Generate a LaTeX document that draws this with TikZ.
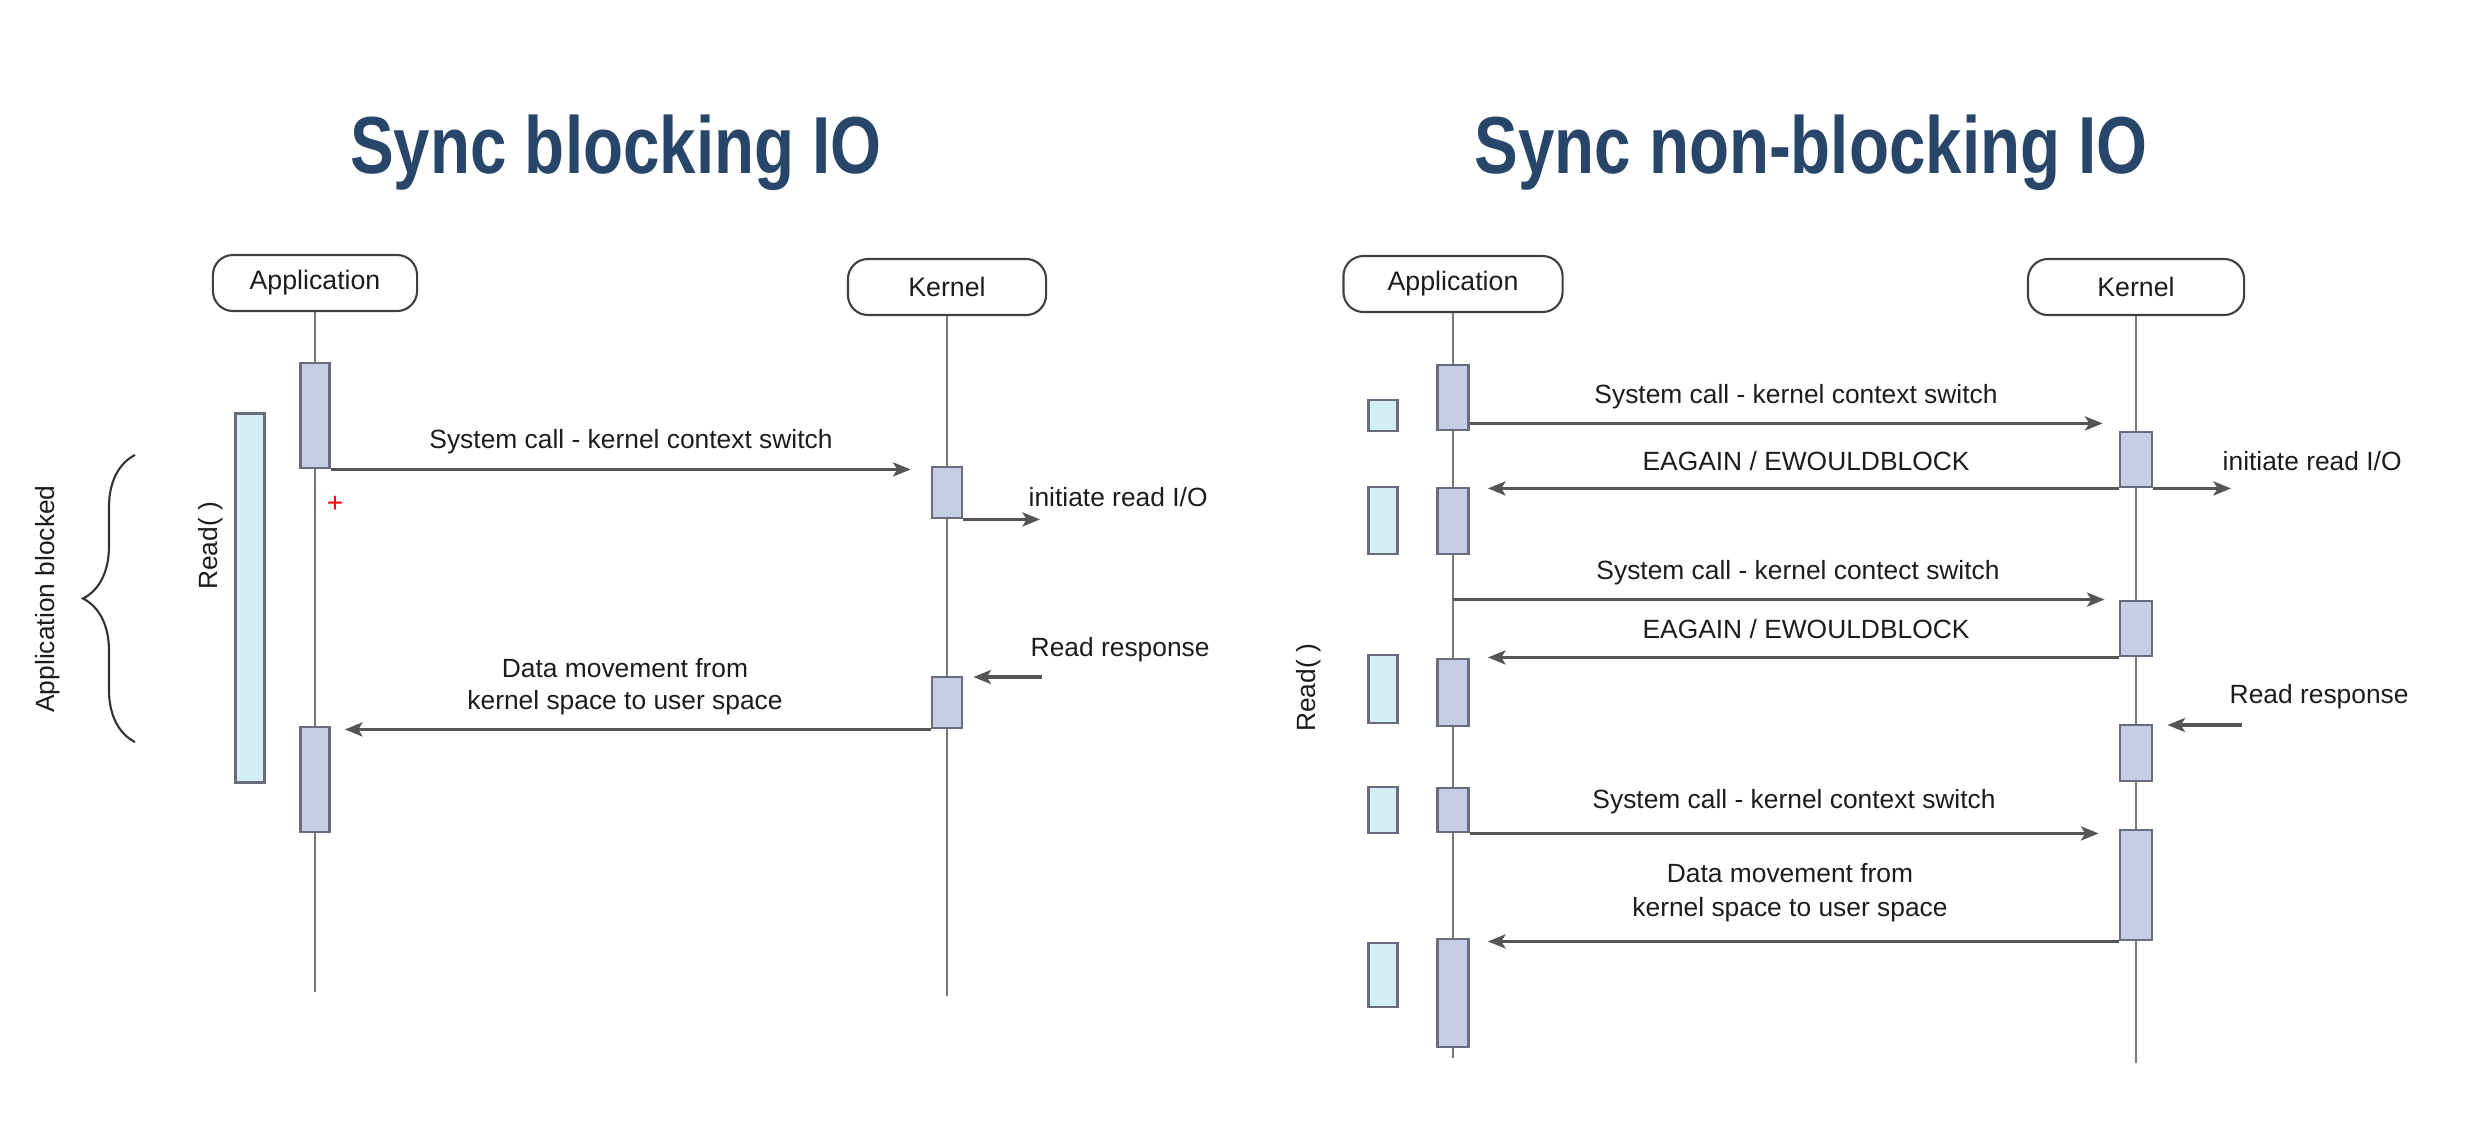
\documentclass[tikz,border=0pt]{standalone}
\usepackage{fontspec}
\setmainfont{Liberation Sans}
\usetikzlibrary{arrows.meta,decorations.pathreplacing}
\definecolor{titleblue}{RGB}{40,70,106}
\definecolor{actfill}{RGB}{198,206,230}
\definecolor{actdraw}{RGB}{105,108,125}
\definecolor{readfill}{RGB}{212,238,246}
\definecolor{lifeg}{RGB}{120,120,120}
\definecolor{arrg}{RGB}{85,85,85}
\definecolor{txt}{RGB}{28,28,28}
\newcommand\mytitle[1]{\scalebox{0.81}[1]{#1}}
\begin{document}
\begin{tikzpicture}[x=0.01cm,y=-0.01cm,
  titlestyle/.style={anchor=base,inner sep=0pt,text=titleblue,font=\fontsize{23}{28}\selectfont\bfseries},
  head/.style={draw=black!75,line width=0.6pt,rounded corners=0.2cm,minimum height=0.56cm,inner sep=0pt,font=\fontsize{7.6}{9}\selectfont,text=txt},
  lbl/.style={inner sep=0pt,font=\fontsize{7.5}{9.4}\selectfont,text=txt,align=center},
  act/.style={draw=actdraw,fill=actfill,line width=0.8pt,minimum width=0.29cm,inner sep=0pt},
  rbar/.style={draw=actdraw,fill=readfill,line width=0.8pt,minimum width=0.29cm,inner sep=0pt},
  life/.style={draw=lifeg,line width=0.55pt},
  arr/.style={draw=arrg,line width=0.9pt,-{Stealth[length=5pt,width=4pt,inset=1.2pt]}},
]
\useasboundingbox (0,0) rectangle (2482,1136);

% ---------- titles ----------
\node[titlestyle] (t1) at (616,173) {\mytitle{Sync blocking IO}};
\node[titlestyle] (t2) at (1811,173) {\mytitle{Sync non-blocking IO}};

% ---------- left diagram ----------
\node[head,minimum width=2.04cm] (appL) at (315,283) {Application};
\node[head,minimum width=1.98cm] (kerL) at (947,287) {Kernel};
\coordinate (appLend) at (315,992);
\coordinate (kerLend) at (947,996);
\draw[life] (appL.south) -- (appLend);
\draw[life] (kerL.south) -- (kerLend);

\node[rbar,minimum height=3.68cm] (rdL) at (250,598) {};
\node[act,minimum height=1.05cm] (aL1) at (315,415.5) {};
\node[act,minimum height=1.05cm] (aL2) at (315,779.5) {};
\node[act,minimum width=0.3cm,minimum height=0.51cm] (kL1) at (947,492.5) {};
\node[act,minimum width=0.3cm,minimum height=0.51cm] (kL2) at (947,702.5) {};

\draw[arr,shorten >=0.2cm] (aL1.south east) -- (aL1.south east -| kL1.west);
\node[lbl] (sysL) at (631,442) {System call - kernel context switch};

\coordinate (iniL) at (1040,518);
\draw[arr] (kL1.south east) -- (kL1.south east -| iniL);
\node[lbl,anchor=west] (iniLt) at (1028,497) {initiate read I/O};

\coordinate (rrL) at (1042,677);
\draw[arr,shorten >=0.1cm] (rrL) -- (rrL -| kL2.east);
\node[lbl,anchor=west] (rrLt) at (1030,650) {Read response};

\draw[arr,shorten >=0.14cm] (kL2.south west) -- (kL2.south west -| aL2.east);
\node[lbl,font=\fontsize{7.5}{9.1}\selectfont] (dmL) at (625,687) {Data movement from\\kernel space to user space};

\node[lbl,rotate=90] (rdLt) at (211,546) {Read( )};
\node[lbl,rotate=90] (blk) at (48,599) {Application blocked};
\draw[decorate,decoration={brace,amplitude=0.52cm},line width=0.6pt,draw=black!80] (135,742) -- (135,455);
\node[inner sep=0pt,text=red,font=\fontsize{8}{9}\selectfont] (plus) at (335,504) {+};

% ---------- right diagram ----------
\node[head,minimum width=2.19cm] (appR) at (1453,284) {Application};
\node[head,minimum width=2.16cm] (kerR) at (2136,287) {Kernel};
\coordinate (appRend) at (1453,1058);
\coordinate (kerRend) at (2136,1063);
\draw[life] (appR.south) -- (appRend);
\draw[life] (kerR.south) -- (kerRend);

\node[act,minimum width=0.31cm,minimum height=0.65cm] (aR1) at (1453,397.5) {};
\node[act,minimum width=0.31cm,minimum height=0.66cm] (aR2) at (1453,521) {};
\node[act,minimum width=0.31cm,minimum height=0.67cm] (aR3) at (1453,692.5) {};
\node[act,minimum width=0.31cm,minimum height=0.44cm] (aR4) at (1453,810) {};
\node[act,minimum width=0.31cm,minimum height=1.08cm] (aR5) at (1453,993) {};

\node[rbar,minimum height=0.31cm] (bR1) at (1383,415.5) {};
\node[rbar,minimum height=0.67cm] (bR2) at (1383,520.5) {};
\node[rbar,minimum height=0.68cm] (bR3) at (1383,689) {};
\node[rbar,minimum height=0.46cm] (bR4) at (1383,810) {};
\node[rbar,minimum height=0.64cm] (bR5) at (1383,975) {};

\node[act,minimum width=0.32cm,minimum height=0.55cm] (kR1) at (2136,459.5) {};
\node[act,minimum width=0.32cm,minimum height=0.55cm] (kR2) at (2136,628.5) {};
\node[act,minimum width=0.32cm,minimum height=0.56cm] (kR3) at (2136,753) {};
\node[act,minimum width=0.32cm,minimum height=1.10cm] (kR4) at (2136,885) {};

\draw[arr,shorten >=0.16cm] ([yshift=0.08cm]aR1.south east) -- ([yshift=0.08cm]aR1.south east -| kR1.west);
\node[lbl] (sysR1) at (1796,397) {System call - kernel context switch};

\draw[arr,shorten >=0.18cm] (kR1.south west) -- (kR1.south west -| aR2.east);
\node[lbl] (eaR1) at (1806,461) {EAGAIN / EWOULDBLOCK};

\coordinate (iniR) at (2231,487);
\draw[arr] (kR1.south east) -- (kR1.south east -| iniR);
\node[lbl,anchor=west] (iniRt) at (2222,461) {initiate read I/O};

\draw[arr,shorten >=0.14cm] (aR2.south |- kR2.north) -- (kR2.north west);
\node[lbl] (sysR2) at (1798,573) {System call - kernel contect switch};

\draw[arr,shorten >=0.18cm] (kR2.south west) -- (kR2.south west -| aR3.east);
\node[lbl] (eaR2) at (1806,629) {EAGAIN / EWOULDBLOCK};

\coordinate (rrR) at (2242,725);
\draw[arr,shorten >=0.14cm] (rrR) -- (rrR -| kR3.east);
\node[lbl,anchor=west] (rrRt) at (2229,697) {Read response};

\draw[arr,shorten >=0.2cm] (aR4.south east) -- (aR4.south east -| kR4.west);
\node[lbl] (sysR3) at (1794,802) {System call - kernel context switch};

\draw[arr,shorten >=0.18cm] (kR4.south west) -- (kR4.south west -| aR5.east);
\node[lbl,font=\fontsize{7.5}{9.6}\selectfont] (dmR) at (1790,893) {Data movement from\\kernel space to user space};

\node[lbl,rotate=90] (rdRt) at (1309,688) {Read( )};
\end{tikzpicture}
\end{document}
